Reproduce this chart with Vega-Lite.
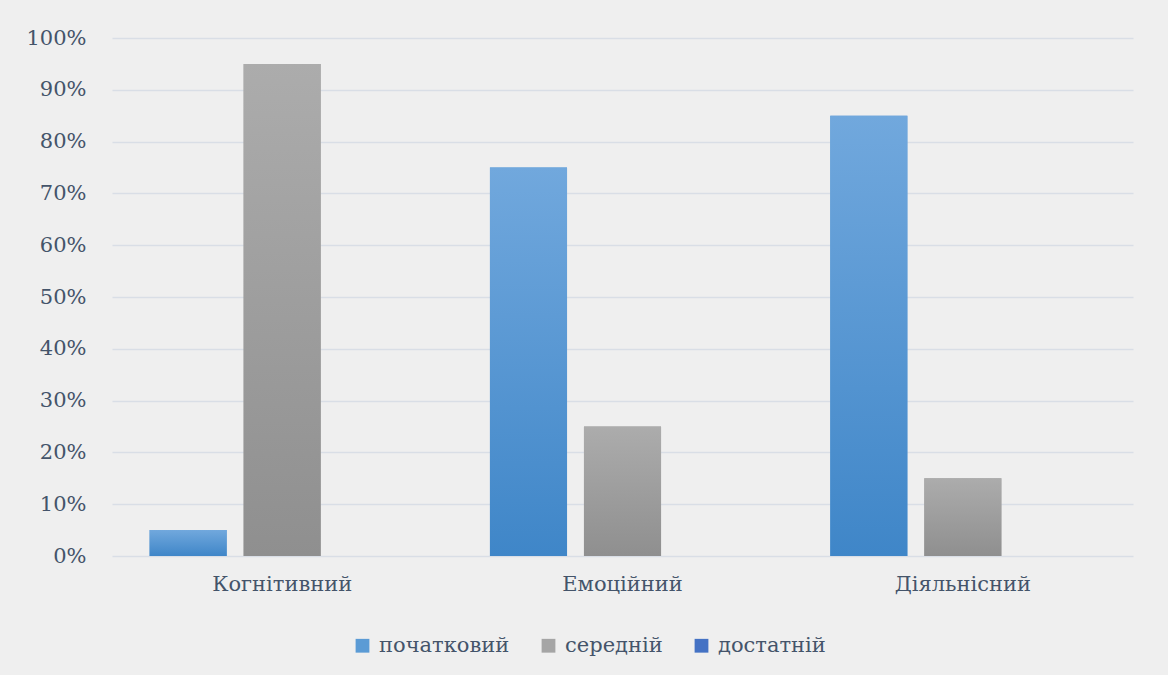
{
  "$schema": "https://vega.github.io/schema/vega-lite/v6.json",
  "autosize": "none",
  "width": 1021,
  "height": 518,
  "padding": {"left": 112, "top": 38, "right": 35, "bottom": 119},
  "background": "#efefef",
  "data": {
    "values": [
      {"component": "Когнітивний", "level": "початковий", "share": 0.05},
      {"component": "Когнітивний", "level": "середній", "share": 0.95},
      {"component": "Когнітивний", "level": "достатній", "share": 0.0},
      {"component": "Емоційний", "level": "початковий", "share": 0.75},
      {"component": "Емоційний", "level": "середній", "share": 0.25},
      {"component": "Емоційний", "level": "достатній", "share": 0.0},
      {"component": "Діяльнісний", "level": "початковий", "share": 0.85},
      {"component": "Діяльнісний", "level": "середній", "share": 0.15},
      {"component": "Діяльнісний", "level": "достатній", "share": 0.0}
    ]
  },
  "encoding": {
    "x": {
      "field": "component",
      "type": "nominal",
      "sort": ["Когнітивний", "Емоційний", "Діяльнісний"],
      "scale": {"paddingInner": 0, "paddingOuter": 0},
      "axis": {"title": null, "labelAngle": 0, "ticks": false, "domain": false, "labelPadding": 17}
    },
    "xOffset": {
      "field": "level",
      "type": "nominal",
      "sort": ["початковий", "середній", "достатній"],
      "scale": {"paddingInner": 0.18, "paddingOuter": 0.4}
    },
    "y": {
      "field": "share",
      "type": "quantitative",
      "scale": {"domain": [0, 1], "nice": false},
      "axis": {
        "title": null,
        "format": ".0%",
        "values": [0, 0.1, 0.2, 0.3, 0.4, 0.5, 0.6, 0.7, 0.8, 0.9, 1],
        "ticks": false,
        "domain": false,
        "labelPadding": 26,
        "grid": true
      }
    }
  },
  "layer": [
    {
      "mark": {"type": "bar"},
      "encoding": {
        "fill": {
          "field": "level",
          "type": "nominal",
          "sort": ["початковий", "середній", "достатній"],
          "scale": {
            "domain": ["початковий", "середній", "достатній"],
            "range": ["#5b9bd5", "#a5a5a5", "#4472c4"]
          },
          "legend": {
            "title": null,
            "orient": "none",
            "legendX": 240,
            "legendY": 597,
            "direction": "horizontal",
            "symbolType": "square",
            "symbolSize": 190,
            "symbolStrokeWidth": 0,
            "labelOffset": 6,
            "columnPadding": 28
          }
        }
      }
    },
    {
      "mark": {"type": "bar"},
      "encoding": {
        "fill": {
          "condition": [
            {"test": "datum.level === 'початковий'", "value": {"gradient": "linear", "x1": 0, "y1": 0, "x2": 0, "y2": 1, "stops": [{"offset": 0, "color": "#71a8dd"}, {"offset": 1, "color": "#3f86c8"}]}},
            {"test": "datum.level === 'середній'", "value": {"gradient": "linear", "x1": 0, "y1": 0, "x2": 0, "y2": 1, "stops": [{"offset": 0, "color": "#acacac"}, {"offset": 1, "color": "#8f8f8f"}]}}
          ],
          "value": {"gradient": "linear", "x1": 0, "y1": 0, "x2": 0, "y2": 1, "stops": [{"offset": 0, "color": "#4a78d0"}, {"offset": 1, "color": "#2f5fb8"}]}
        }
      }
    }
  ],
  "config": {
    "view": {"stroke": null},
    "font": "DejaVu Serif",
    "axis": {
      "labelFont": "DejaVu Serif",
      "labelFontSize": 21,
      "labelColor": "#44546a",
      "gridColor": "#d9dee6",
      "gridWidth": 1.5
    },
    "legend": {
      "labelFont": "DejaVu Serif",
      "labelFontSize": 21,
      "labelColor": "#44546a",
      "padding": 0
    }
  }
}
